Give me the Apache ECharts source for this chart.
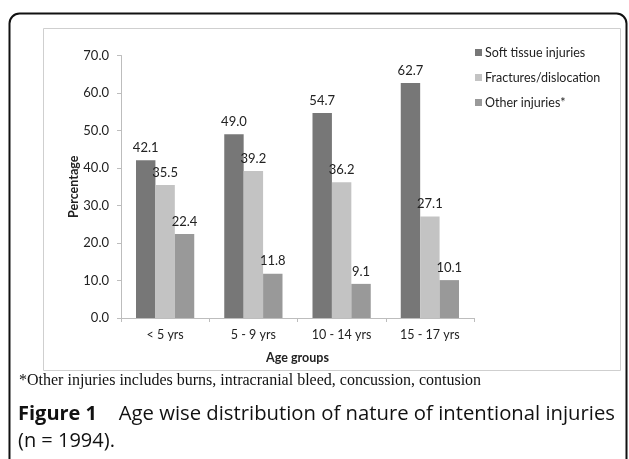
<!DOCTYPE html>
<html>
<head>
<meta charset="utf-8">
<script src="https://cdn.jsdelivr.net/npm/echarts@6/dist/echarts.min.js"></script>
<style>
  html, body { margin: 0; padding: 0; background: #fff; }
  #main { width: 629px; height: 459px; }
</style>
</head>
<body>
<div id="main"></div>
<script>
// data
const categories = ['< 5 yrs', '5 - 9 yrs', '10 - 14 yrs', '15 - 17 yrs'];
const softTissue = [42.1, 49.0, 54.7, 62.7];
const fractures = [35.5, 39.2, 36.2, 27.1];
const otherInjuries = [22.4, 11.8, 9.1, 10.1];
const seriesNames = ['Soft tissue injuries', 'Fractures/dislocation', 'Other injuries*'];

const chartFont = 'Lato';
const labelStyle = {
  show: true,
  position: 'top',
  distance: 6,
  fontFamily: chartFont,
  fontSize: 13,
  color: '#222',
  formatter: p => p.value.toFixed(1)
};

let option = {
  animation: false,
  grid: { left: 121, right: 155, top: 55.5, bottom: 141 },
  legend: {
    orient: 'vertical',
    left: 470,
    top: 41,
    itemWidth: 7,
    itemHeight: 7,
    itemGap: 12,
    icon: 'rect',
    textStyle: { fontFamily: chartFont, fontSize: 12.5, color: '#222', padding: [0, 0, 0, -2] },
    data: seriesNames
  },
  xAxis: {
    type: 'category',
    data: categories,
    name: 'Age groups',
    nameLocation: 'middle',
    nameGap: 33,
    nameMoveOverlap: false,
    nameTextStyle: { fontFamily: chartFont, fontSize: 12.5, fontWeight: 'bold', color: '#222' },
    axisLine: { lineStyle: { color: '#bdbdbd' } },
    axisTick: { show: true, length: 4, lineStyle: { color: '#bdbdbd' } },
    axisLabel: { fontFamily: chartFont, fontSize: 12.5, color: '#222', margin: 10 }
  },
  yAxis: {
    type: 'value',
    min: 0,
    max: 70,
    interval: 10,
    name: 'Percentage',
    nameLocation: 'middle',
    nameGap: 41,
    nameMoveOverlap: false,
    nameTextStyle: { fontFamily: chartFont, fontSize: 12.5, fontWeight: 'bold', color: '#222' },
    axisLine: { show: true, lineStyle: { color: '#bdbdbd' } },
    axisTick: { show: true, length: 4, lineStyle: { color: '#bdbdbd' } },
    splitLine: { show: false },
    axisLabel: { fontFamily: chartFont, fontSize: 13, color: '#222', margin: 12, formatter: v => v.toFixed(1) }
  },
  series: [
    { name: seriesNames[0], type: 'bar', data: softTissue, itemStyle: { color: '#777777' }, label: labelStyle, barGap: '0%', barCategoryGap: '34%' },
    { name: seriesNames[1], type: 'bar', data: fractures, itemStyle: { color: '#c3c3c3' }, label: labelStyle },
    { name: seriesNames[2], type: 'bar', data: otherInjuries, itemStyle: { color: '#999999' }, label: labelStyle }
  ],
  graphic: [
    // outer rounded frame
    { type: 'rect', shape: { x: 9.5, y: 13.5, width: 617, height: 460, r: 10 },
      style: { fill: 'none', stroke: '#111', lineWidth: 2 }, z: -10 },
    // chart box
    { type: 'rect', shape: { x: 43.5, y: 28.5, width: 577, height: 342 },
      style: { fill: 'none', stroke: '#cfcfcf', lineWidth: 1 }, z: -10 },
    { type: 'text', left: 19, top: 373,
      style: { text: '*Other injuries includes burns, intracranial bleed, concussion, contusion',
        fontFamily: 'Liberation Serif', fontSize: 16, fill: '#111' } },
    { type: 'text', left: 18, top: 404,
      style: { text: 'Figure 1', fontFamily: 'Open Sans', fontSize: 20, fontWeight: 'bold', fill: '#111' } },
    { type: 'text', right: 14, top: 404,
      style: { text: 'Age wise distribution of nature of intentional injuries', fontFamily: 'Open Sans', fontSize: 20.3, fill: '#111' } },
    { type: 'text', left: 18, top: 431,
      style: { text: '(n = 1994).', fontFamily: 'Open Sans', fontSize: 20, fill: '#111' } }
  ]
};

let myChart = echarts.init(document.getElementById('main'));
myChart.setOption(option);
</script>
</body>
</html>
